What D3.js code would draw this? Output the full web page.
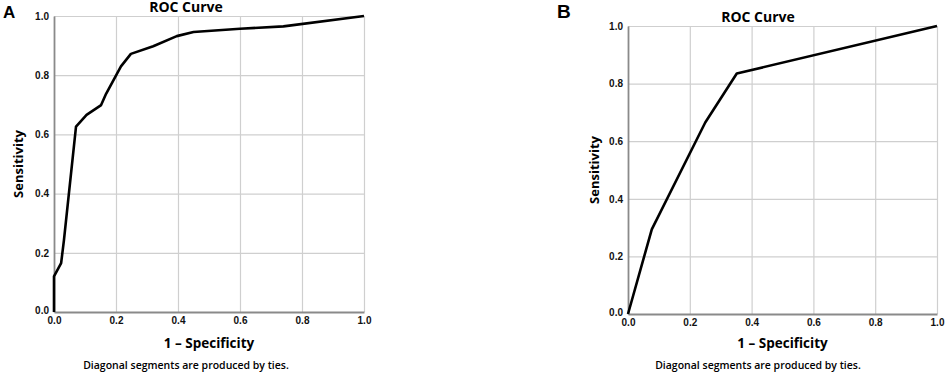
<!DOCTYPE html>
<html>
<head>
<meta charset="utf-8">
<script src="https://cdn.jsdelivr.net/npm/d3@7"></script>
<style>
  body { margin: 0; background: #fff; }
  svg { display: block; }
  .tick text { font: bold 10px "Liberation Sans", sans-serif; fill: #111; }
  .grid line { stroke: #cfcfcf; stroke-width: 1.2; }
  .grid .domain { display: none; }
</style>
</head>
<body>
<svg width="945" height="373"></svg>
<script>
var tickValues = [0, 0.2, 0.4, 0.6, 0.8, 1.0];

// panel A: 1 - specificity / sensitivity
var fprA = [0, 0, 0.023, 0.032, 0.071, 0.105, 0.152, 0.168, 0.216, 0.248, 0.32, 0.396, 0.45, 0.6, 0.74, 1.0];
var tprA = [0, 0.12, 0.165, 0.242, 0.626, 0.666, 0.699, 0.737, 0.83, 0.872, 0.898, 0.932, 0.946, 0.957, 0.965, 1.0];

// panel B
var fprB = [0, 0.077, 0.25, 0.352, 1.0];
var tprB = [0, 0.294, 0.665, 0.835, 1.0];

var panels = [
  { key: "A", fpr: fprA, tpr: tprA, x0: 54, x1: 364, y0: 312, y1: 16,
    letterX: 3, letterSize: 17, titleY: 11.5, ylabX: 18, center: 186 },
  { key: "B", fpr: fprB, tpr: tprB, x0: 628, x1: 937, y0: 314, y1: 26,
    letterX: 557, letterSize: 19, titleY: 22, ylabX: 594, center: 758 }
];

var svg = d3.select("svg");
var fmt = d3.format(".1f");

panels.forEach(function(p) {
  var x = d3.scaleLinear().domain([0, 1]).range([p.x0, p.x1]),
    y = d3.scaleLinear().domain([0, 1]).range([p.y0, p.y1]);

  var g = svg.append("g");

  // gridlines
  g.append("g")
    .attr("class", "grid")
    .attr("transform", `translate(0,${p.y0})`)
    .call(d3.axisBottom(x).tickValues(tickValues.slice(1)).tickSize(p.y1 - p.y0).tickFormat(""));
  g.append("g")
    .attr("class", "grid")
    .attr("transform", `translate(${p.x0},0)`)
    .call(d3.axisLeft(y).tickValues(tickValues.slice(1)).tickSize(p.x0 - p.x1).tickFormat(""));

  // axes
  var xa = g.append("g")
    .attr("transform", `translate(0,${p.y0})`)
    .call(d3.axisBottom(x).tickValues(tickValues).tickSize(0).tickPadding(5).tickFormat(fmt));
  var ya = g.append("g")
    .attr("transform", `translate(${p.x0},0)`)
    .call(d3.axisLeft(y).tickValues(tickValues).tickSize(0).tickPadding(5).tickFormat(fmt));
  [xa, ya].forEach(function(a) {
    a.select(".domain").attr("stroke", "#8a8a8a").attr("stroke-width", 1.8);
  });
  ya.selectAll(".tick text").filter(d => d === 0).attr("dy", "0.1em");

  // curve
  var pts = p.fpr.map((v, i) => [v, p.tpr[i]]);
  g.append("path")
    .datum(pts)
    .attr("fill", "none")
    .attr("stroke", "#000")
    .attr("stroke-width", 2.6)
    .attr("stroke-linejoin", "round")
    .attr("d", d3.line().x(d => x(d[0])).y(d => y(d[1])));

  // texts
  g.append("text")
    .attr("x", p.letterX).attr("y", 18)
    .style("font", `bold ${p.letterSize}px "Liberation Sans", sans-serif`)
    .text(p.key);

  g.append("text")
    .attr("x", p.center).attr("y", p.titleY)
    .attr("text-anchor", "middle")
    .style("font", 'bold 14px "Open Sans", sans-serif')
    .text("ROC Curve");

  g.append("text")
    .attr("transform", `translate(${p.ylabX},${(p.y0 + p.y1) / 2}) rotate(-90)`)
    .attr("text-anchor", "middle")
    .attr("dy", "0.35em")
    .style("font", 'bold 13px "Open Sans", sans-serif')
    .text("Sensitivity");

  g.append("text")
    .attr("x", (p.x0 + p.x1) / 2).attr("y", 348)
    .attr("text-anchor", "middle")
    .style("font", 'bold 13.5px "Open Sans", sans-serif')
    .text("1 \u2013 Specificity");

  g.append("text")
    .attr("x", p.center).attr("y", 369)
    .attr("text-anchor", "middle")
    .style("font", '600 10.5px "Open Sans", sans-serif')
    .text("Diagonal segments are produced by ties.");
});
</script>
</body>
</html>
